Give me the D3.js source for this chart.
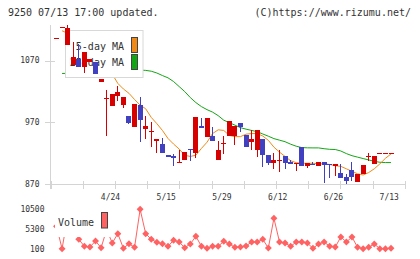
<!DOCTYPE html>
<meta charset="utf-8">
<head>
  <title>9250 daily chart</title>
  <style>
    body { margin: 0; background: #fff; }
    svg { display: block; }
    text { font-family: "DejaVu Sans Mono", monospace; fill: #333; }
    .axis line { stroke: #d4d4d4; stroke-width: 1px; shape-rendering: crispEdges; }
  </style>
</head>
<body>
  <svg width="420" height="259"></svg>
  <script src="https://d3js.org/d3.v7.min.js"></script>
  <script>
    // daily prices, oldest first (61 sessions)
    var open  = [1106,1124,1095,1062,1072,1060,1068,1068,1036,1009,996,1012,998,980,963,998,960,956,940,935,
                 918,915,905,909,927,921,964,947,948,909,937,948,948,969,949,938,926,943,917,904,
                 910,915,906,903,931,900,903,899,906,902,900,888,882,893,874,886,915,902,920,920,920];
    var high  = [1106,1124,1128,1100,1097,1084,1072,1068,1040,1022,1016,1029,1011,980,1000,1011,980,971,943,944,
                 918,919,926,922,927,979,977,977,962,940,948,972,964,969,949,957,957,943,917,920,
                 926,915,910,904,931,904,906,906,906,902,902,903,887,906,887,901,920,915,920,920,920];
    var low   = [1106,1124,1095,1062,1060,1050,1068,1048,1036,948,996,1005,994,967,963,938,943,930,920,921,
                 914,899,904,909,908,913,961,947,940,909,919,948,933,954,930,926,914,898,901,894,
                 890,894,902,891,899,897,902,899,872,880,883,880,871,876,874,886,907,902,920,920,920];
    var close = [1106,1124,1123,1076,1060,1084,1072,1048,1040,1010,1016,1019,1011,969,1000,974,964,956,943,921,
                 914,912,906,922,925,979,961,977,940,925,937,972,964,963,930,943,957,918,904,910,
                 910,904,902,904,899,904,902,906,901,901,902,880,876,881,887,901,915,915,920,920,920];

    var ma5  = [null,1118,1114,1105,1096,1085,1078,1068,1060,1052,1048,1033,1024,1017,1007,998,992,978,968,957,
                944,935,927,917,915,917,928,938,952,958,957,949,947,947,951,952,952,948,941,930,
                922,915,908,905,904,904,904,903,903,902,900,899,895,891,887,885,889,895,903,912,919];
    var ma25 = [null,1049,1049.3,1049.8,1050.2,1050.7,1051.4,1052,1052.7,1053.3,1053.8,1054.3,1054.6,1054.8,1054.8,
                1054.6,1054,1052.7,1049.8,1045.7,1042,1036,1027.9,1019.8,1010.1,1002,995.5,990.6,986.6,980.9,
                973.6,969.6,965.6,961.5,959.1,957,955,951.3,947.7,943.8,941.3,938.8,934.8,931.5,929.3,
                928.9,928.8,928.8,927.5,926.5,926.2,923.8,919.6,916.2,913.9,911.6,909.4,907.1,905.6,905.1,905.1];

    var volume = [6000,100,8500,8000,2580,730,550,2130,360,5140,1600,4060,200,1420,470,10500,4060,2580,1790,1420,
                  730,2320,1870,360,1340,3370,730,200,730,730,2050,1340,470,550,810,1870,1870,2580,280,8130,
                  1870,1600,730,1870,1870,1600,200,1340,1870,730,550,3190,1870,3190,470,100,470,1340,100,100,200];

    var dateLabels = ["4/24", "5/15", "5/29", "6/12", "6/26", "7/13"];
    var dateIndex  = [10, 20, 30, 40, 50, 60];
    var priceTicks = [870, 970, 1070];
    var volTicks   = [100, 5300, 10500];

    var RED = "#d60000", BLUE = "#4040c0", ORANGE = "#ef8a17", GREEN = "#14a514", VOL = "#ff6262";

    var svg = d3.select("svg");

    var x = d3.scaleLinear().domain([0, 60]).range([56.5, 391]);
    var y = d3.scaleLinear().domain([870, 1070]).range([184.3, 60.5]);
    var yv = d3.scaleLinear().domain([100, 10500]).range([248.7, 209.3]);

    // header
    svg.append("text").attr("x", 8).attr("y", 12.5).attr("dy", "0.35em")
        .style("font-size", "10px").text("9250 07/13 17:00 updated.");
    svg.append("text").attr("x", 411).attr("y", 12.5).attr("dy", "0.35em")
        .attr("text-anchor", "end").style("font-size", "10px").text("(C)https://www.rizumu.net/");

    // axes
    var axis = svg.append("g").attr("class", "axis");
    axis.append("line").attr("x1", 50.5).attr("x2", 50.5).attr("y1", 25).attr("y2", 189);
    axis.append("line").attr("x1", 45).attr("x2", 405).attr("y1", 184.5).attr("y2", 184.5);
    axis.selectAll(".yt").data(priceTicks).enter().append("line")
        .attr("x1", 45).attr("x2", 55)
        .attr("y1", function(d) { return Math.round(y(d)) + 0.5; })
        .attr("y2", function(d) { return Math.round(y(d)) + 0.5; });
    axis.selectAll(".xt").data(d3.range(12)).enter().append("line")
        .attr("x1", function(k) { return Math.round(50.5 + k * 32.2) + 0.5; })
        .attr("x2", function(k) { return Math.round(50.5 + k * 32.2) + 0.5; })
        .attr("y1", 181).attr("y2", 189);

    svg.selectAll(".ylab").data(priceTicks).enter().append("text")
        .attr("x", 39.5).attr("y", function(d) { return y(d); }).attr("dy", "0.35em")
        .attr("text-anchor", "end").style("font-size", "8px").text(function(d) { return d; });

    svg.selectAll(".xlab").data(dateLabels).enter().append("text")
        .attr("x", function(d, i) { return x(dateIndex[i]) - 1.8; }).attr("y", 197.5).attr("dy", "0.35em")
        .attr("text-anchor", "middle").style("font-size", "8px").text(function(d) { return d; });

    // moving averages
    var maLine = d3.line()
        .defined(function(d) { return d != null; })
        .x(function(d, i) { return x(i); })
        .y(function(d) { return y(d); });
    svg.append("path").attr("d", maLine(ma25)).attr("fill", "none").attr("stroke", GREEN).attr("stroke-width", 1);
    svg.append("path").attr("d", maLine(ma5)).attr("fill", "none").attr("stroke", ORANGE).attr("stroke-width", 1);

    // legend (sits above MA lines, under candles)
    var lg = svg.append("g");
    lg.append("rect").attr("x", 65.5).attr("y", 30.5).attr("width", 77.5).attr("height", 47)
        .attr("fill", "#fff").attr("stroke", "#d8d8d8");
    lg.append("text").attr("x", 124).attr("y", 46).attr("dy", "0.35em").attr("text-anchor", "end")
        .style("font-size", "10px").text("5-day MA");
    lg.append("text").attr("x", 124).attr("y", 62.5).attr("dy", "0.35em").attr("text-anchor", "end")
        .style("font-size", "10px").text("25-day MA");
    lg.append("rect").attr("x", 131.5).attr("y", 37.5).attr("width", 6).attr("height", 15)
        .attr("fill", ORANGE).attr("stroke", "#444");
    lg.append("rect").attr("x", 131.5).attr("y", 54.5).attr("width", 6).attr("height", 15)
        .attr("fill", GREEN).attr("stroke", "#444");

    // candles
    var candle = svg.append("g").selectAll("g").data(d3.range(open.length)).enter().append("g")
        .style("shape-rendering", "crispEdges");
    candle.append("line")
        .attr("x1", function(i) { return Math.round(x(i) - 2.5) + 2.5; })
        .attr("x2", function(i) { return Math.round(x(i) - 2.5) + 2.5; })
        .attr("y1", function(i) { return y(high[i]); })
        .attr("y2", function(i) { return y(low[i]); })
        .attr("stroke", function(i) { return close[i] >= open[i] ? RED : BLUE; });
    candle.append("rect")
        .attr("x", function(i) { return Math.round(x(i) - 2.5); })
        .attr("width", 5)
        .attr("y", function(i) { return y(Math.max(open[i], close[i])); })
        .attr("height", function(i) { return Math.max(1, y(Math.min(open[i], close[i])) - y(Math.max(open[i], close[i]))); })
        .attr("fill", function(i) { return close[i] >= open[i] ? RED : BLUE; });

    // volume
    svg.selectAll(".vlab").data(volTicks).enter().append("text")
        .attr("x", 44.5).attr("y", function(d) { return yv(d); }).attr("dy", "0.35em")
        .attr("text-anchor", "end").style("font-size", "8px").text(function(d) { return d; });

    var volLine = d3.line().x(function(d, i) { return x(i); }).y(function(d) { return yv(d); });
    svg.append("path").attr("d", volLine(volume)).attr("fill", "none").attr("stroke", VOL).attr("stroke-width", 1);
    svg.selectAll(".vpt").data(volume).enter().append("path")
        .attr("d", d3.symbol().type(d3.symbolSquare).size(24))
        .attr("transform", function(d, i) { return "translate(" + x(i) + "," + yv(d) + ") rotate(45)"; })
        .attr("fill", VOL);

    var vlg = svg.append("g");
    vlg.append("rect").attr("x", 55).attr("y", 205).attr("width", 55).attr("height", 32).attr("fill", "#fff");
    vlg.append("text").attr("x", 58).attr("y", 222).attr("dy", "0.35em").style("font-size", "10px").text("Volume");
    vlg.append("rect").attr("x", 101.5).attr("y", 212.5).attr("width", 6).attr("height", 15.5)
        .attr("fill", VOL).attr("stroke", "#444");
  </script>
</body>
</html>
